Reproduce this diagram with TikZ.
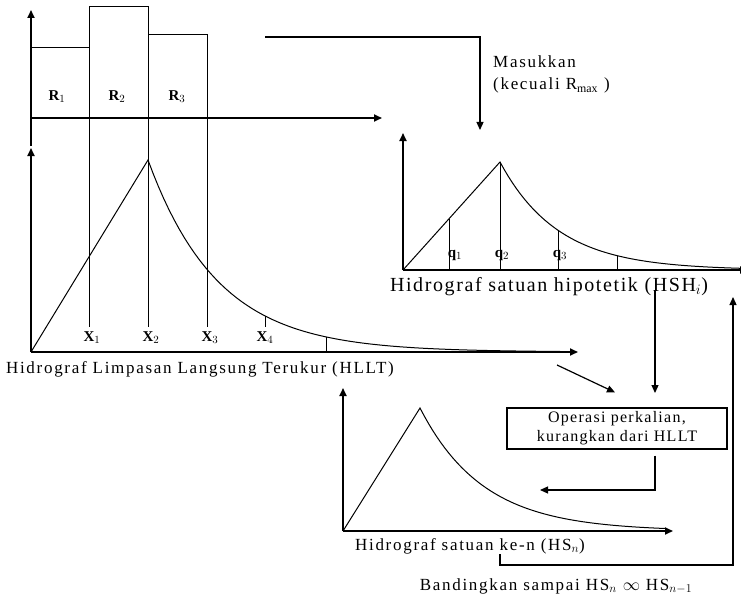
\documentclass[tikz,border=0pt]{standalone}
\usepackage{fontspec}
\setmainfont{Liberation Serif}
\newfontfamily\spacedserif[LetterSpace=10]{Liberation Serif}
\newfontfamily\headserif[LetterSpace=8]{Liberation Serif}
\usetikzlibrary{positioning, calc, arrows.meta}
\tikzset{
    axis/.style={-{Triangle[length=8pt,width=7pt]}, line width=1.8pt},
    guide/.style={line width=1pt},
    curve/.style={line width=1pt},
    conn/.style={-{Triangle[length=8pt,width=7pt]}, line width=1.2pt},
    caption/.style={font=\spacedserif\fontsize{17}{20}\selectfont, inner sep=0pt},
    idx/.style={font=\bfseries\fontsize{15}{17}\selectfont, inner sep=0pt},
    opbox/.style={draw, line width=1.2pt, minimum width=220pt, minimum height=41pt, align=center, inner sep=0pt, font=\headserif\fontsize{16}{19}\selectfont},
}

\begin{document}
\begin{tikzpicture}[x=1pt, y=-1pt]
    \useasboundingbox (0,0) rectangle (741,599);

    % Hujan efektif (histogram)
    \draw[axis] (31,146) -- (31,10);
    \draw[axis] (31,118) -- (382,118);
    \draw[guide] (31,48) -- (89,48) -- (89,7) -- (148,7) -- (148,35) -- (207,35) -- (207,327);
    \draw[guide] (89,7) -- (89,327);
    \draw[guide] (148,7) -- (148,327);
    \node[idx] (r1) at (57,97) {R$_1$};
    \node[idx] (r2) at (117,97) {R$_2$};
    \node[idx] (r3) at (177,97) {R$_3$};

    % HLLT
    \draw[axis] (31,352) -- (31,148);
    \draw[axis] (31,352) -- (578,352);
    \draw[curve] (31,352) -- (148,160) -- plot[domain=148:560, samples=80] (\x,{352-192*exp(-(\x-148)/70)});
    \draw[guide] (265,316) -- (265,327);
    \draw[guide] (326,337) -- (326,352);
    \node[idx] (x1) at (92,338) {X$_1$};
    \node[idx] (x2) at (151,338) {X$_2$};
    \node[idx] (x3) at (210,338) {X$_3$};
    \node[idx] (x4) at (265,338) {X$_4$};
    \node[caption] (hllt) at (200,369) {Hidrograf Limpasan Langsung Terukur (HLLT)};

    % HSH hipotetik
    \draw[axis] (403,270) -- (403,133);
    \draw[axis] (403,270) -- (748,270);
    \draw[curve] (403,270) -- (500,162) -- plot[domain=500:741, samples=60] (\x,{270-108*exp(-(\x-500)/58)});
    \draw[guide] (449,219) -- (449,270);
    \draw[guide] (500,162) -- (500,270);
    \draw[guide] (558,230) -- (558,270);
    \draw[guide] (617,256) -- (617,270);
    \node[idx] (q1) at (455,255) {q$_1$};
    \node[idx] (q2) at (502,255) {q$_2$};
    \node[idx] (q3) at (560,255) {q$_3$};
    \node[caption, anchor=north west, align=left, font=\spacedserif\fontsize{17}{22}\selectfont] (note) at (493,56) {Masukkan\\(kecuali R$_{\max}$ )};
    \node[caption, font=\headserif\fontsize{20}{22}\selectfont] (hsh) at (549,287) {Hidrograf satuan hipotetik (HSH$_i$)};

    \coordinate (rain) at (265,37);
    \coordinate (inlet) at (480,130);
    \draw[conn] (rain) -| (inlet);

    % operasi
    \node[opbox] (op) at (617,428.5) {Operasi perkalian,\\kurangkan dari HLLT};
    \coordinate (split) at (655,393);
    \coordinate (ret) at (540,490);
    \coordinate (hlltout) at (557,365);
    \draw[conn] ($(hsh.south -| split)+(0,-6)$) -- (split);
    \draw[conn] (hlltout) -- ($(op.north)+(-2,-15)$);
    \draw[conn] ($(op.south -| split)+(0,6)$) |- (ret);

    % HS ke-n
    \draw[axis] (343,531) -- (343,388);
    \draw[axis] (343,531) -- (673,531);
    \draw[curve] (343,531) -- (420,408) -- plot[domain=420:665, samples=60] (\x,{531-123*exp(-(\x-420)/63)});
    \node[caption] (hsn) at (470,546) {Hidrograf satuan ke-n (HS$_n$)};
    \coordinate (loop) at (500,565);
    \coordinate (turn) at (733,565);
    \coordinate (back) at (733,297);
    \draw[conn] (hsn.south -| loop) -- (loop) -- (turn) -- (back);
    \node[caption] (cmp) at (556,586) {Bandingkan sampai HS$_n$ $\infty$ HS$_{n-1}$};
\end{tikzpicture}
\end{document}
